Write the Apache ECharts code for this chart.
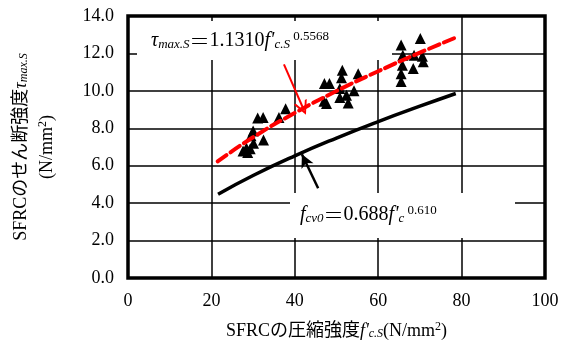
<!DOCTYPE html>
<html><head><meta charset="utf-8">
<script src="https://cdn.jsdelivr.net/npm/echarts@6/dist/echarts.min.js"></script>
<style>html,body{margin:0;padding:0;background:#fff}#c{width:567px;height:354px}</style>
</head><body><div id="c"></div>
<script>
// ---- data ----
const xTicks = [0, 20, 40, 60, 80, 100];
const yTicks = [0, 2, 4, 6, 8, 10, 12, 14];
const testX = [27.6, 28.7, 28.4, 29.3, 30.1, 29.5, 30.0, 31.1, 32.4, 32.5, 36.2, 37.8,
               47.1, 48.3, 51.4, 51.2, 55.2, 50.8, 54.2, 52.4, 50.8, 47.0, 47.6, 52.8,
               65.5, 70.1, 65.9, 68.6, 70.6, 70.8, 68.4, 65.8, 65.5, 65.5];
const testY = [6.78, 6.70, 6.95, 6.90, 7.20, 7.60, 7.85, 8.55, 8.58, 7.38, 8.58, 9.05,
               10.39, 10.39, 11.10, 10.70, 10.92, 10.12, 10.00, 9.76, 9.65, 9.45, 9.32, 9.35,
               12.45, 12.80, 11.90, 11.90, 11.85, 11.55, 11.19, 11.37, 10.92, 10.50];
const fitX = [21.5, 30, 40, 50, 60, 70, 78.6];
const fitY = [6.23, 7.52, 8.82, 9.99, 11.05, 12.04, 12.85];
const baseX = [21.6, 30, 40, 50, 60, 70, 78.6];
const baseY = [4.48, 5.48, 6.53, 7.48, 8.36, 9.18, 9.86];
const redArrow = [[37.4, 11.42], [42.0, 9.07]];
const blackArrow = [[45.6, 4.80], [41.7, 6.61]];

const font = '"Liberation Serif", "Noto Sans CJK JP", serif';
const cjk = '"Noto Sans CJK JP", sans-serif';
const zip = (a, b) => a.map((v, i) => [v, b[i]]);

function richSet(size, small, subPad, supPad, lh) {
  const base = {color: '#000'};
  if (lh) base.lineHeight = lh;
  return {
    t: Object.assign({fontFamily: font, fontStyle: 'italic', fontSize: size}, base),
    n: Object.assign({fontFamily: font, fontSize: size}, base),
    eq: Object.assign({fontFamily: cjk, fontSize: size, fontWeight: 300}, base),
    sub: Object.assign({fontFamily: font, fontStyle: 'italic', fontSize: small, padding: [subPad, 0, 0, 0]}, base),
    sup: Object.assign({fontFamily: font, fontSize: small, padding: [0, 0, supPad, 0]}, base)
  };
}

const chart = echarts.init(document.getElementById('c'));
const option = {
  animation: false,
  backgroundColor: '#fff',
  grid: {left: 125, right: 22, top: 16, bottom: 76, show: true, borderColor: '#000', borderWidth: 3.5},
  xAxis: {
    type: 'value', min: xTicks[0], max: xTicks[xTicks.length - 1], interval: xTicks[1] - xTicks[0],
    axisLine: {show: false}, axisTick: {show: false},
    splitLine: {show: true, lineStyle: {color: '#000', width: 1.5}},
    axisLabel: {fontFamily: font, fontSize: 18, color: '#000', margin: 14},
    name: "SFRCの圧縮強度{t|f'}{sub|c.S}(N/mm{sup|2})",
    nameLocation: 'middle', nameGap: 43,
    nameTextStyle: {fontFamily: font, fontSize: 18, color: '#000', rich: richSet(18, 12, 6, 8)}
  },
  yAxis: {
    type: 'value', min: yTicks[0], max: yTicks[yTicks.length - 1], interval: yTicks[1] - yTicks[0],
    axisLine: {show: false}, axisTick: {show: false},
    splitLine: {show: true, lineStyle: {color: '#000', width: 1.5}},
    axisLabel: {fontFamily: font, fontSize: 18, color: '#000', margin: 14, formatter: v => v.toFixed(1)},
    name: "SFRCのせん断強度{t|τ}{sub|max.S}\n(N/mm{sup|2})",
    nameLocation: 'middle', nameGap: 68, nameRotate: 90,
    nameTextStyle: {fontFamily: font, fontSize: 18, color: '#000', lineHeight: 26, rich: richSet(18, 12, 6, 8, 26)}
  },
  series: [
    {
      type: 'line', data: zip(baseX, baseY), smooth: true, showSymbol: false, z: 3,
      lineStyle: {color: '#000', width: 3.5},
      markLine: {
        silent: true, animation: false, symbol: ['none', 'arrow'], symbolSize: [10, 13],
        label: {show: false},
        lineStyle: {color: '#000', width: 2.5, type: 'solid'},
        data: [[{coord: blackArrow[0]}, {coord: blackArrow[1]}]]
      }
    },
    {
      type: 'scatter', data: zip(testX, testY), symbol: 'triangle', symbolSize: [11, 11], z: 4,
      itemStyle: {color: '#000', opacity: 1}
    },
    {
      type: 'line', data: zip(fitX, fitY), smooth: true, showSymbol: false, z: 5,
      lineStyle: {color: '#ff0000', width: 4, type: [11, 5], cap: 'round'},
      markLine: {
        silent: true, animation: false,
        symbol: ['none', 'path://M0,12 L6,0 L12,12 L10.2,12 L6,3.6 L1.8,12 Z'], symbolSize: [14, 14],
        label: {show: false},
        lineStyle: {color: '#ff0000', width: 2, type: 'solid'},
        data: [[{coord: redArrow[0]}, {coord: redArrow[1]}]]
      }
    }
  ],
  graphic: [
    {type: 'rect', z: 1, shape: {x: 137, y: 21, width: 255, height: 39}, style: {fill: '#fff'}},
    {type: 'rect', z: 1, shape: {x: 290, y: 193, width: 225, height: 45}, style: {fill: '#fff'}},
    {type: 'text', z: 10, x: 151, y: 41, style: {
      text: "{t|τ}{sub|max.S}{eq|＝}{n|1.1310}{t|f'}{sub|c.S}{sup| 0.5568}",
      verticalAlign: 'middle', rich: richSet(20, 13, 8, 9)}},
    {type: 'text', z: 10, x: 300, y: 215, style: {
      text: "{t|f}{sub|cv0}{eq|＝}{n|0.688}{t|f'}{sub|c}{sup| 0.610}",
      verticalAlign: 'middle', rich: richSet(20, 13, 8, 9)}}
  ]
};
chart.setOption(option);
</script></body></html>
